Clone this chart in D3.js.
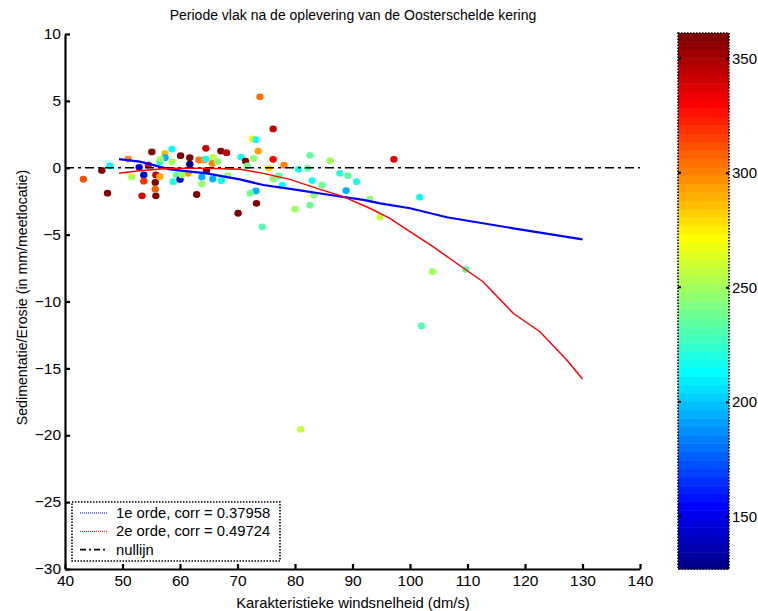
<!DOCTYPE html>
<html>
<head>
<meta charset="utf-8">
<script src="https://cdn.jsdelivr.net/npm/d3@7"></script>
<style>
    body { margin: 0; background: #fff; }
    svg text { font-family: 'Liberation Sans', Arial, sans-serif; fill: #000; }
</style>
</head>
<body>
<div id="chart"></div>
<script>
// Titles
const titleText = 'Periode vlak na de oplevering van de Oosterschelde kering'
const xLabelText = 'Karakteristieke windsnelheid (dm/s)'
const yLabelText = 'Sedimentatie/Erosie (in mm/meetlocatie)'

// Scatter data (wind speed, sed/erosion, wind direction)
const scatterX = [43.2, 46.4, 47.8, 47.4, 51.6, 51.0, 55.1, 53.4, 55.8, 55.7, 55.7, 55.8, 52.9, 53.7, 53.7,
    56.5, 57.4, 57.4, 58.6, 58.6, 56.5, 60.1, 59.4, 58.8, 60.0, 61.7, 62.9, 64.5, 63.3, 64.2,
    63.8, 63.8, 64.5, 65.8, 65.6, 66.5, 67.1, 68.1, 65.7, 67.2, 68.3, 64.6, 70.1, 70.6, 73.9,
    76.2, 72.6, 73.2, 73.6, 72.8, 71.4, 76.2, 78.1, 75.5, 71.7, 76.2, 77.2, 77.8, 73.2, 72.2,
    73.3, 74.3, 82.6, 86.1, 80.6, 82.2, 83.0, 84.7, 83.3, 80.0, 82.6, 87.8, 89.2, 90.7, 88.9,
    93.0, 94.8, 97.2, 101.7, 103.9, 109.7, 102.0, 81.0, 61.4, 61.7, 60.3, 56.6, 54.5]
const scatterY = [-0.86, -0.2, 0.13, -1.9, -0.7, 0.65, 1.18, -2.1, -2.1, -1.1, -1.6, -0.54, 0.03, -0.54, -1.0,
    -0.66, 1.08, 0.75, 1.4, 0.45, 0.45, 0.9, -0.54, -1.04, -0.87, 0.75, -2.0, 1.45, 0.58, 0.58,
    -0.7, -1.2, 0.65, 0.78, 0.33, 0.45, 1.25, 1.13, -0.84, -0.97, -0.59, -0.22, -3.4, 0.8, 5.3,
    2.9, 2.15, 2.1, 1.25, 0.7, 0.5, 0.63, 0.2, -0.04, 0.13, -0.84, -0.6, -1.3, -1.74, -1.9,
    -2.66, -4.43, 0.93, 0.53, -0.12, -0.04, -0.96, -1.31, -2.04, -3.1, -2.8, -0.42, -0.59, -1.04, -1.71,
    -2.34, -3.7, 0.63, -2.2, -7.77, -7.6, -11.83, -19.56, -0.42, 0.26, -0.54, 0.65, 0.2]
const scatterC = [310, 358, 212, 358, 252, 300, 358, 338, 358, 358, 308, 340, 150, 145, 320,
    290, 285, 195, 212, 250, 215, 358, 235, 222, 145, 358, 358, 340, 305, 298,
    195, 245, 215, 255, 300, 245, 358, 345, 195, 215, 250, 358, 358, 215, 305,
    345, 275, 215, 295, 245, 358, 330, 300, 280, 240, 245, 235, 215, 195, 240,
    358, 230, 235, 250, 215, 235, 215, 240, 245, 250, 240, 225, 235, 220, 195,
    245, 255, 335, 215, 250, 235, 230, 255, 295, 130, 250, 248, 335]

// 1e orde fit
const fit1X = [49.4, 53.0, 58.3, 64.6, 70.4, 74.5, 80.3, 86.1, 91.9, 94.8, 100.0, 106.4, 118.0, 130.0]
const fit1Y = [0.65, 0.46, -0.12, -0.42, -0.87, -1.29, -1.66, -2.04, -2.4, -2.66, -3.03, -3.7, -4.53, -5.35]

// 2e orde fit
const fit2X = [49.4, 53.0, 58.3, 64.6, 70.4, 74.5, 79.1, 83.8, 88.4, 93.0, 96.5, 100.0, 104.0, 108.1, 112.7, 118.0, 122.6, 127.3, 130.0]
const fit2Y = [-0.42, -0.22, -0.04, -0.04, -0.12, -0.42, -0.87, -1.54, -2.16, -3.03, -3.78, -4.78, -5.9, -7.14, -8.52, -10.9, -12.26, -14.4, -15.8]

// Axes ticks
const xTicks = [40, 50, 60, 70, 80, 90, 100, 110, 120, 130, 140]
const yTicks = [-30, -25, -20, -15, -10, -5, 0, 5, 10]
const cbTicks = [150, 200, 250, 300, 350]
const cbDomain = [127, 361]

// Legend
const legendLabels = ['1e orde, corr = 0.37958', '2e orde, corr = 0.49724', 'nullijn']
const legendColors = ['#0000ff', '#ff0000', '#000000']

// Dimensions
const width = 758
const height = 611
const plot = {left: 65, right: 640, top: 34, bottom: 569}
const cb = {left: 678, right: 729, top: 33, bottom: 569}

// Matlab jet(64)
function jetColors(m) {
    const n = Math.ceil(m / 4)
    const u = []
    for (let k = 1; k <= n; k++) u.push(k / n)
    for (let k = 1; k < n; k++) u.push(1)
    for (let k = n; k >= 1; k--) u.push(k / n)
    const g0 = Math.ceil(n / 2) - (m % 4 === 1 ? 1 : 0)
    const J = d3.range(m).map(() => [0, 0, 0])
    u.forEach((v, k) => {
        const g = g0 + k + 1, r = g + n, b = g - n
        if (g <= m) J[g - 1][1] = v
        if (r <= m) J[r - 1][0] = v
        if (b >= 1) J[b - 1][2] = v
    })
    return J.map(c => d3.rgb(c[0] * 255, c[1] * 255, c[2] * 255).formatHex())
}
const jet = jetColors(64)
const colorScale = d3.scaleQuantize().domain(cbDomain).range(jet)

const svg = d3.select('#chart').append('svg')
    .attr('width', width)
    .attr('height', height)

const x = d3.scaleLinear().domain([40, 140]).range([plot.left, plot.right])
const y = d3.scaleLinear().domain([-30, 10]).range([plot.bottom, plot.top])

// Title and labels
svg.append('text')
    .attr('x', 353).attr('y', 20)
    .attr('text-anchor', 'middle')
    .style('font-size', '14px')
    .text(titleText)

svg.append('text')
    .attr('x', 353).attr('y', 608)
    .attr('text-anchor', 'middle')
    .style('font-size', '14.8px')
    .text(xLabelText)

svg.append('text')
    .attr('transform', `translate(27,${(plot.top + plot.bottom) / 2 - 4}) rotate(-90)`)
    .attr('text-anchor', 'middle')
    .style('font-size', '14.2px')
    .text(yLabelText)

// Scatter
svg.append('g').selectAll('ellipse')
    .data(scatterX.map((d, i) => ({x: d, y: scatterY[i], c: scatterC[i]})))
    .join('ellipse')
    .attr('cx', d => x(d.x))
    .attr('cy', d => y(d.y))
    .attr('rx', 3.7)
    .attr('ry', 3.4)
    .attr('fill', d => colorScale(d.c))

// Zero line
svg.append('line')
    .attr('x1', x(40)).attr('x2', x(140))
    .attr('y1', y(0)).attr('y2', y(0))
    .attr('stroke', '#000')
    .attr('stroke-width', 1.6)
    .attr('stroke-dasharray', '9,4,3,4')

const line = d3.line().x(d => x(d[0])).y(d => y(d[1]))

svg.append('path')
    .datum(fit1X.map((d, i) => [d, fit1Y[i]]))
    .attr('d', line)
    .attr('fill', 'none')
    .attr('stroke', '#0000ff')
    .attr('stroke-width', 2.2)

svg.append('path')
    .datum(fit2X.map((d, i) => [d, fit2Y[i]]))
    .attr('d', line)
    .attr('fill', 'none')
    .attr('stroke', '#ff0000')
    .attr('stroke-width', 1.5)

// Axes
const xAxis = svg.append('g')
    .attr('transform', `translate(0,${plot.bottom})`)
    .call(d3.axisBottom(x).tickValues(xTicks).tickSizeInner(-5).tickSizeOuter(0).tickPadding(6))
const yAxis = svg.append('g')
    .attr('transform', `translate(${plot.left},0)`)
    .call(d3.axisLeft(y).tickValues(yTicks).tickSizeInner(-5).tickSizeOuter(0).tickPadding(4))

;[xAxis, yAxis].forEach(a => {
    a.select('.domain').attr('stroke', '#000').attr('stroke-width', 2.2)
    a.selectAll('.tick line').attr('stroke', '#000').attr('stroke-width', 2.2)
    a.selectAll('.tick text').style('font-size', '15.5px').attr('fill', '#000')
})
yAxis.selectAll('.tick text').attr('dy', '0.3em')

// Legend
const legend = svg.append('g')
legend.append('rect')
    .attr('x', 72).attr('y', 502)
    .attr('width', 208).attr('height', 59)
    .attr('fill', '#fff')
    .attr('stroke', '#000')
    .attr('stroke-width', 1.6)
    .attr('stroke-dasharray', '1.5,1.5')
legendLabels.forEach((lab, i) => {
    const ly = 513 + i * 18.3
    legend.append('line')
        .attr('x1', 80).attr('x2', 107)
        .attr('y1', ly).attr('y2', ly)
        .attr('stroke', legendColors[i])
        .attr('stroke-width', i === 2 ? 1.6 : 1)
        .attr('stroke-dasharray', i === 2 ? '6,3,2,3' : '1,1')
    legend.append('text')
        .attr('x', 116).attr('y', ly + 5)
        .style('font-size', '14.8px')
        .text(lab)
})

// Colorbar
const cbY = d3.scaleLinear().domain(cbDomain).range([cb.bottom, cb.top])
const bandW = (cbDomain[1] - cbDomain[0]) / jet.length
svg.append('g').selectAll('rect')
    .data(jet)
    .join('rect')
    .attr('x', cb.left)
    .attr('width', cb.right - cb.left)
    .attr('y', (d, i) => cbY(cbDomain[0] + (i + 1) * bandW))
    .attr('height', (d, i) => cbY(cbDomain[0] + i * bandW) - cbY(cbDomain[0] + (i + 1) * bandW) + 0.5)
    .attr('fill', d => d)

svg.append('rect')
    .attr('x', cb.left).attr('y', cb.top)
    .attr('width', cb.right - cb.left).attr('height', cb.bottom - cb.top)
    .attr('fill', 'none')
    .attr('stroke', '#000')
    .attr('stroke-width', 1.6)
    .attr('stroke-dasharray', '1.5,1.5')

const cbAxis = svg.append('g')
    .attr('transform', `translate(${cb.right},0)`)
    .call(d3.axisRight(cbY).tickValues(cbTicks).tickSizeInner(-3).tickSizeOuter(0).tickPadding(3))
cbAxis.select('.domain').remove()
cbAxis.selectAll('.tick line').attr('stroke', '#000').attr('stroke-width', 2)
cbAxis.selectAll('.tick text').style('font-size', '15px').attr('fill', '#000')
svg.append('g').selectAll('line')
    .data(cbTicks)
    .join('line')
    .attr('x1', cb.left).attr('x2', cb.left + 3)
    .attr('y1', d => cbY(d)).attr('y2', d => cbY(d))
    .attr('stroke', '#000').attr('stroke-width', 2)
</script>
</body>
</html>
